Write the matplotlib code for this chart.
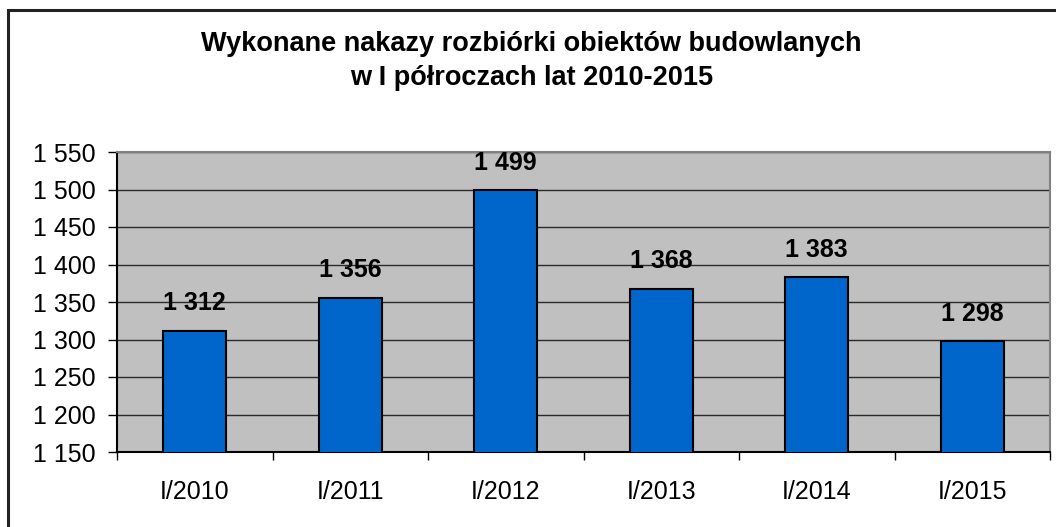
import matplotlib.pyplot as plt
import numpy as np
from matplotlib.patches import Rectangle

plt.rcParams['font.family'] = ['Liberation Sans', 'DejaVu Sans']

categories = ['I/2010', 'I/2011', 'I/2012', 'I/2013', 'I/2014', 'I/2015']
values = [1312, 1356, 1499, 1368, 1383, 1298]
yticks = [1150, 1200, 1250, 1300, 1350, 1400, 1450, 1500, 1550]


def fmt(v):
    # thousands separated by a space, e.g. "1 550"
    return f"{v:,}".replace(",", " ")


fig = plt.figure(figsize=(10.56, 5.27), dpi=100)
ax = fig.add_axes([117 / 1056, 1 - 452 / 527, (1050 - 117) / 1056, 300 / 527])

# outer chart frame
fig.patches.append(Rectangle((8 / 1056, -0.02), 1.1, 1 - 10 / 527 + 0.02,
                             transform=fig.transFigure, fill=False,
                             edgecolor='#222222', linewidth=2.2, zorder=0))

x = np.arange(len(categories))
ax.set_facecolor('#C0C0C0')
ax.set_axisbelow(True)
ax.yaxis.grid(True, color='#2a2a2a', linewidth=1.0)
ax.bar(x, values, width=0.405, color='#0066CC', edgecolor='black', linewidth=1.5, zorder=3)

for xi, v in zip(x, values):
    ax.annotate(fmt(v), (xi, v), xytext=(0, 11), textcoords='offset points',
                ha='center', va='bottom', fontsize=18, fontweight='bold')

ax.set_xlim(-0.5, len(categories) - 0.5)
ax.set_ylim(1150, 1550)
ax.set_yticks(yticks)
ax.set_yticklabels([fmt(t) for t in yticks], fontsize=18)

ax.set_xticks(x)
ax.set_xticklabels(categories, fontsize=18)
ax.tick_params(axis='x', which='major', length=0, pad=20)
ax.set_xticks(np.arange(-0.5, len(categories)), minor=True)
ax.tick_params(axis='x', which='minor', length=6, width=1, color='black')
ax.tick_params(axis='y', length=6.5, width=1, color='black', pad=9)

ax.spines['left'].set_color('black')
ax.spines['bottom'].set_color('black')
ax.spines['top'].set_color('#808080')
ax.spines['right'].set_color('#808080')
for s in ax.spines.values():
    s.set_linewidth(1.5)

fig.text(0.503, 1 - 61 / 527, 'Wykonane nakazy rozbiórki obiektów budowlanych\nw I półroczach lat 2010-2015',
         ha='center', va='center', fontsize=19.5, fontweight='bold', linespacing=1.38)

fig.savefig('out.png', dpi=100)
